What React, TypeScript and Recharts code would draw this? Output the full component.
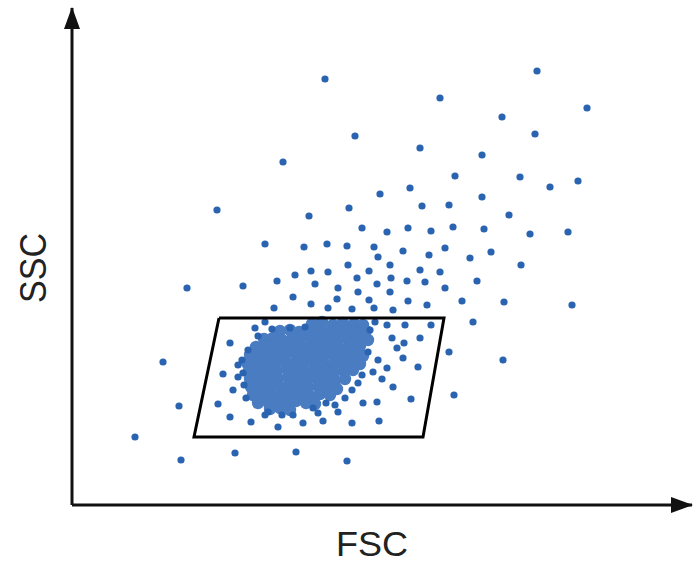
// App.tsx
import { ScatterChart, Scatter, XAxis, YAxis, ReferenceDot, Label } from "recharts";

// FSC / SSC values (arbitrary units)
const sparseCells: [number, number][] = [
  [253, 426], [465, 434], [368, 407], [515, 397], [430, 388], [283, 369],
  [463, 371], [348, 357], [211, 343], [410, 350], [383, 329], [448, 328],
  [506, 324], [478, 318], [338, 317], [308, 311], [410, 308], [377, 300],
  [145, 295], [277, 297], [350, 299], [437, 290], [237, 289], [290, 277],
  [315, 273], [336, 277], [359, 274], [381, 278], [412, 276], [458, 271],
  [496, 273], [193, 261], [232, 258], [255, 261], [275, 259], [302, 258],
  [306, 248], [331, 254], [357, 250], [373, 257], [419, 253], [398, 247],
  [449, 240], [276, 240], [318, 240], [348, 235], [368, 233], [405, 224],
  [115, 217], [171, 219], [205, 224], [223, 230], [239, 234], [256, 233],
  [285, 227], [297, 234], [319, 227], [335, 224], [353, 223], [243, 221],
  [266, 217], [305, 221], [286, 213], [318, 213], [373, 217], [221, 208],
  [265, 206], [297, 205], [336, 204], [355, 200], [390, 204], [432, 203],
  [500, 200], [239, 201], [302, 197], [256, 197], [280, 196], [321, 195],
  [202, 197], [401, 183],
];

const gateCells: [number, number][] = [
  [183, 177], [218, 177], [233, 178], [193, 183], [158, 162], [151, 131],
  [161, 115], [146, 101], [158, 88], [166, 140], [166, 128], [315, 180],
  [320, 167], [325, 157], [315, 137], [301, 133], [321, 118], [333, 180],
  [359, 180], [348, 167], [332, 162], [331, 147], [346, 138], [339, 106],
  [179, 83], [206, 78], [231, 82], [251, 84], [280, 82], [307, 84],
  [266, 93], [291, 102], [305, 103], [254, 102], [241, 97], [221, 90],
  [210, 90], [193, 90], [186, 169], [176, 155], [170, 145], [172, 120],
  [174, 107], [298, 175], [303, 183], [296, 153], [290, 130], [280, 115],
  [273, 107], [263, 100], [200, 176], [171, 132], [310, 126], [286, 122],
  [306, 145], [196, 93], [246, 92],
];

const outsideCells: [number, number][] = [
  [91, 143], [107, 99], [63, 68], [109, 45], [163, 52], [224, 53],
  [275, 44], [377, 153], [431, 145], [382, 110],
];

const coreCells: [number, number][] = [
  [240, 181], [250, 183], [261, 180], [271, 182], [282, 181], [291, 180],
  [208, 174], [218, 175], [227, 173], [237, 175], [246, 174], [256, 173],
  [265, 175], [275, 174], [284, 172], [294, 174],
  [192, 166], [201, 167], [210, 165], [220, 166], [229, 168], [239, 166],
  [248, 165], [258, 167], [267, 166], [277, 164], [286, 167], [296, 165],
  [184, 158], [193, 159], [203, 157], [212, 158], [221, 160], [231, 158],
  [240, 157], [250, 159], [259, 158], [269, 156], [278, 158], [288, 159],
  [178, 150], [187, 151], [196, 149], [206, 150], [215, 152], [225, 150],
  [234, 149], [244, 151], [253, 150], [263, 148], [272, 150], [282, 151],
  [291, 149],
  [175, 142], [184, 143], [193, 141], [203, 142], [212, 144], [222, 142],
  [231, 141], [241, 143], [250, 142], [260, 140], [269, 142], [279, 143],
  [288, 141],
  [177, 134], [186, 135], [196, 133], [205, 134], [215, 136], [224, 134],
  [234, 133], [243, 135], [253, 134], [262, 132], [272, 134], [281, 135],
  [178, 126], [187, 127], [197, 125], [206, 126], [216, 128], [225, 126],
  [235, 125], [244, 127], [254, 126], [263, 124], [273, 126],
  [179, 118], [189, 119], [198, 117], [208, 118], [217, 120], [227, 118],
  [236, 117], [246, 119], [255, 118], [265, 116],
  [181, 110], [191, 111], [200, 109], [210, 110], [219, 112], [229, 110],
  [238, 109], [248, 111], [258, 110],
  [186, 102], [196, 103], [205, 101], [215, 102], [224, 104], [234, 102],
  [243, 101],
  [198, 96], [208, 97], [218, 95],
];

const gateVertices: [number, number][] = [
  [147, 187], [372, 187], [351, 68], [122, 68], [147, 187],
];

const toPoints = (pairs: [number, number][]) =>
  pairs.map(([fsc, ssc]) => ({ fsc, ssc }));

const DOT = "#2a64b1";
const CORE = "#4a7cc2";

const dot = (r: number, fill: string) => (p: any) =>
  <circle cx={p.cx} cy={p.cy} r={r} fill={fill} />;

export default function App() {
  return (
    <div style={{ position: "absolute", left: 0, top: 0, width: 697, height: 566, background: "#fff" }}>
      <ScatterChart width={697} height={566} margin={{ top: 8, right: 5, bottom: 60, left: 71 }}>
        <XAxis
          type="number"
          dataKey="fsc"
          domain={[0, 620]}
          height={1}
          tick={false}
          tickLine={false}
          axisLine={{ stroke: "#111", strokeWidth: 3 }}
          allowDataOverflow
        >
          <Label
            content={(props: any) => {
              const vb = props.viewBox;
              return (
                <text
                  x={372}
                  y={vb.y + 51}
                  textAnchor="middle"
                  fontFamily="Liberation Sans, Arial, sans-serif"
                  fontSize={35}
                  textLength={72}
                  lengthAdjust="spacingAndGlyphs"
                  fill="#222"
                >
                  FSC
                </text>
              );
            }}
          />
        </XAxis>
        <YAxis
          type="number"
          dataKey="ssc"
          domain={[0, 497]}
          width={1}
          tick={false}
          tickLine={false}
          axisLine={{ stroke: "#111", strokeWidth: 3 }}
          allowDataOverflow
        >
          <Label
            content={() => {
              const cx = 33;
              const cy = 268;
              return (
                <text
                  x={cx}
                  y={cy}
                  transform={`rotate(-90, ${cx}, ${cy})`}
                  textAnchor="middle"
                  dominantBaseline="central"
                  fontFamily="Liberation Sans, Arial, sans-serif"
                  fontSize={37}
                  textLength={70}
                  lengthAdjust="spacingAndGlyphs"
                  fill="#222"
                >
                  SSC
                </text>
              );
            }}
          />
        </YAxis>

        <Scatter data={toPoints(coreCells)} shape={dot(6.2, CORE)} isAnimationActive={false} />
        <Scatter data={toPoints(sparseCells)} shape={dot(3.6, DOT)} isAnimationActive={false} />
        <Scatter data={toPoints(gateCells)} shape={dot(3.6, DOT)} isAnimationActive={false} />
        <Scatter data={toPoints(outsideCells)} shape={dot(3.6, DOT)} isAnimationActive={false} />
        <Scatter
          data={toPoints(gateVertices)}
          line={{ stroke: "#000", strokeWidth: 3 }}
          lineType="joint"
          shape={() => <g />}
          isAnimationActive={false}
        />

        <ReferenceDot
          x={0}
          y={497}
          r={0}
          ifOverflow="visible"
          shape={(p: any) => <path d={`M${p.cx},${p.cy - 1} l-8,22 l16,0 z`} fill="#111" />}
        />
        <ReferenceDot
          x={620}
          y={0}
          r={0}
          ifOverflow="visible"
          shape={(p: any) => <path d={`M${p.cx + 1},${p.cy} l-22,-8 l0,16 z`} fill="#111" />}
        />
      </ScatterChart>
    </div>
  );
}
